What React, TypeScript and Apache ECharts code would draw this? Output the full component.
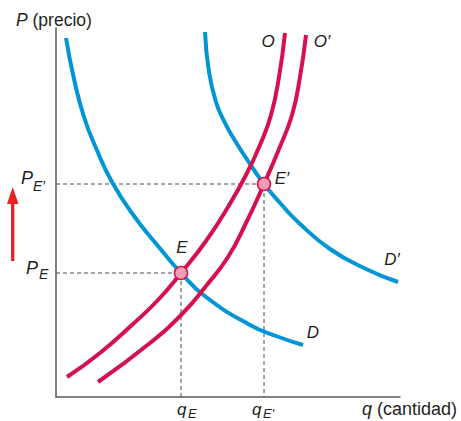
import React, { useEffect, useRef } from "react";
import * as echarts from "echarts";

// Datos (unidades arbitrarias: q de 0 a 344, P de 0 a 369)
const curvaD = [[10, 359], [18, 318], [28, 280], [40, 249], [56, 215], [78, 181], [102, 151], [125, 124], [150, 100], [194, 72], [220, 61], [247, 52]];
const curvaD2 = [[149, 365], [153, 325], [160, 295], [168, 276], [178, 258], [192, 236], [208, 213], [225, 193], [242, 175], [274, 148], [310, 128], [342, 115]];
const curvaO = [[11, 20], [44, 44], [77, 73], [102, 97], [125, 124], [150, 156], [172, 190], [190, 222], [204, 252], [215, 282], [223, 320], [229, 364]];
const curvaO2 = [[42, 15], [94, 54], [127, 84], [150, 111], [172, 140], [190, 174], [208, 213], [223, 248], [236, 282], [244, 320], [250, 362]];
const equilibrioE = [125, 124];
const equilibrioE2 = [208, 213];
const ejeQ = [0, 344];
const ejeP = [0, 369];

const FONT = "'Liberation Sans', Arial, Helvetica, sans-serif";
const INK = "#231f20";
const BLUE = "#0096d6";
const RED = "#d6104f";

function txt(text: string, x: number, y: number, size: number, italic = true, align = "left") {
  return {
    type: "text",
    x,
    y,
    silent: true,
    style: {
      text,
      fill: INK,
      fontFamily: FONT,
      fontSize: size,
      fontStyle: italic ? "italic" : "normal",
      align,
      verticalAlign: "middle",
    },
  };
}

function richTxt(text: string, x: number, y: number, size: number) {
  return {
    type: "text",
    x,
    y,
    silent: true,
    style: {
      text,
      fill: INK,
      fontFamily: FONT,
      fontSize: size,
      align: "left",
      verticalAlign: "middle",
      rich: {
        i: { fontStyle: "italic", fontSize: size, fontFamily: FONT, fill: INK },
        n: { fontStyle: "normal", fontSize: size, fontFamily: FONT, fill: INK },
      },
    },
  };
}

export default function App() {
  const ref = useRef<HTMLDivElement>(null);
  useEffect(() => {
    const chart = echarts.init(ref.current!, null, { renderer: "svg" });
    const axisCommon = {
      type: "value",
      axisLine: { show: true, onZero: false, lineStyle: { color: "#58595b", width: 1.5 } },
      axisTick: { show: false },
      axisLabel: { show: false },
      splitLine: { show: false },
    };
    const guide = (p: number[]) => ({
      type: "line",
      data: [[0, p[1]], [p[0], p[1]], [p[0], 0]],
      symbol: "none",
      silent: true,
      z: 1,
      lineStyle: { color: "#4d4d4f", width: 1, type: [4, 3] },
    });
    const curve = (data: number[][], color: string) => ({
      type: "line",
      data,
      smooth: 0.5,
      symbol: "none",
      silent: true,
      z: 3,
      lineStyle: { color, width: 4, cap: "butt" },
    });
    chart.setOption({
      animation: false,
      grid: { left: 56, top: 28, right: 61, bottom: 24, containLabel: false },
      xAxis: { ...axisCommon, min: ejeQ[0], max: ejeQ[1] },
      yAxis: { ...axisCommon, min: ejeP[0], max: ejeP[1] },
      series: [
        guide(equilibrioE),
        guide(equilibrioE2),
        curve(curvaD, BLUE),
        curve(curvaD2, BLUE),
        curve(curvaO, RED),
        curve(curvaO2, RED),
        {
          type: "scatter",
          data: [equilibrioE, equilibrioE2],
          symbolSize: 13,
          silent: true,
          z: 10,
          itemStyle: { color: "#f49cb3", borderColor: RED, borderWidth: 1.5, opacity: 1 },
        },
      ],
      graphic: [
        richTxt("{i|P}{n| (precio)}", 16, 20, 17.5),
        richTxt("{i|q}{n| (cantidad)}", 362, 409, 18),
        txt("O", 268, 41, 17, true, "center"),
        txt("O′", 322, 41, 17, true, "center"),
        txt("E", 182, 247, 17, true, "center"),
        txt("E′", 282, 178, 17, true, "center"),
        txt("D′", 392, 259, 17, true, "center"),
        txt("D", 313, 332, 17, true, "center"),
        txt("P", 21, 178, 18),
        txt("E′", 33, 186, 14),
        txt("P", 26, 268, 18),
        txt("E", 39, 274, 14),
        txt("q", 177, 409, 17),
        txt("E", 188, 413.5, 13),
        txt("q", 252, 409, 17),
        txt("E′", 263, 413.5, 13),
        {
          type: "line",
          silent: true,
          shape: { x1: 12.7, y1: 261, x2: 12.7, y2: 200 },
          style: { stroke: "#e52421", lineWidth: 3.3 },
        },
        {
          type: "polygon",
          silent: true,
          shape: { points: [[7, 204], [18.5, 204], [12.7, 187]] },
          style: { fill: "#e52421" },
        },
      ],
    });
    return () => chart.dispose();
  }, []);
  return <div ref={ref} style={{ position: "absolute", left: 0, top: 0, width: 461, height: 421 }} />;
}
